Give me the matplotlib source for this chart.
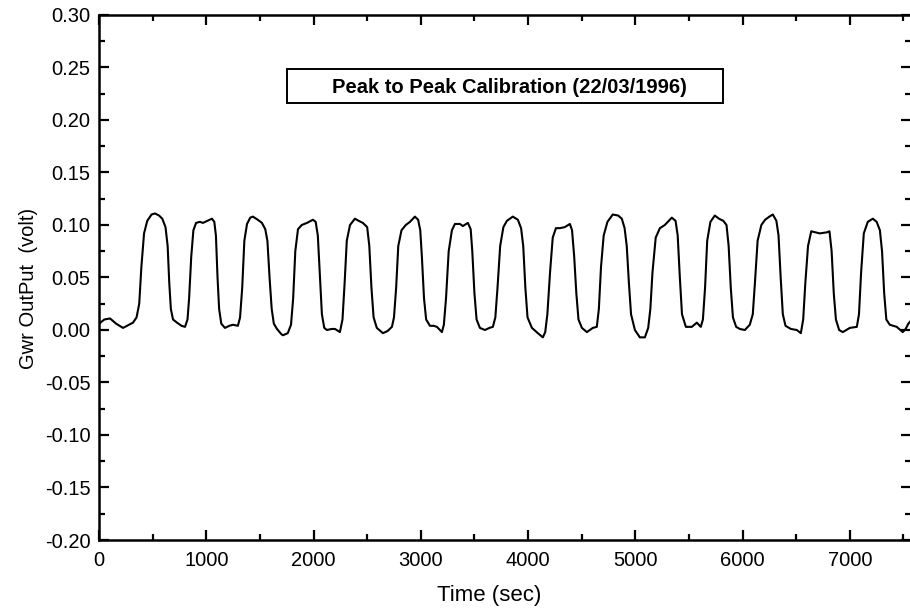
import matplotlib.pyplot as plt
from matplotlib.patches import Rectangle
from matplotlib.ticker import MultipleLocator

plt.rcParams['font.family'] = ['Liberation Sans', 'DejaVu Sans']

# time (sec) and GWR output (volt)
time_sec = [
    0, 50, 103, 160, 224, 280, 317, 350, 375, 395, 420, 450, 490, 522, 560, 590,
    620, 640, 655, 670, 690, 727, 770, 802, 825, 840, 860, 880, 905, 940, 969,
    1010, 1053, 1075, 1090, 1105, 1120, 1140, 1174, 1215, 1249, 1295, 1315, 1335,
    1355, 1380, 1410, 1435, 1480, 1519, 1550, 1570, 1590, 1610, 1630, 1659, 1700,
    1715, 1760, 1790, 1810, 1830, 1855, 1890, 1939, 1994, 2020, 2040, 2060, 2078,
    2100, 2125, 2170, 2200, 2246, 2270, 2290, 2310, 2340, 2386, 2420, 2460, 2500,
    2520, 2540, 2560, 2590, 2647, 2690, 2731, 2750, 2770, 2790, 2820, 2860, 2899,
    2945, 2975, 2995, 3010, 3030, 3050, 3085, 3120, 3150, 3197, 3215, 3235, 3260,
    3290, 3318, 3365, 3392, 3439, 3465, 3480, 3500, 3520, 3551, 3598, 3640, 3672,
    3695, 3715, 3740, 3770, 3803, 3858, 3905, 3935, 3955, 3975, 3995, 4036, 4091,
    4138, 4160, 4180, 4205, 4230, 4260, 4297, 4343, 4390, 4410, 4430, 4450, 4470,
    4502, 4548, 4604, 4641, 4660, 4680, 4705, 4740, 4790, 4840, 4874, 4900, 4920,
    4940, 4960, 4996, 5042, 5089, 5120, 5140, 5160, 5190, 5229, 5275, 5340, 5375,
    5395, 5415, 5435, 5471, 5527, 5573, 5610, 5630, 5650, 5670, 5700, 5741, 5780,
    5820, 5850, 5870, 5890, 5910, 5940, 5974, 6021, 6067, 6095, 6115, 6140, 6175,
    6210, 6250, 6282, 6315, 6335, 6355, 6375, 6400, 6450, 6505, 6543, 6565, 6585,
    6610, 6640, 6680, 6720, 6785, 6810, 6830, 6850, 6870, 6900, 6934, 7000, 7065,
    7085, 7105, 7130, 7167, 7214, 7250, 7280, 7300, 7320, 7340, 7372, 7437, 7493,
    7520, 7545, 7570,
]
output_volt = [
    0.006, 0.010, 0.011, 0.006, 0.002, 0.005, 0.007, 0.012, 0.025, 0.060, 0.092, 0.104, 0.110, 0.111, 0.109, 0.106,
    0.098, 0.080, 0.045, 0.020, 0.010, 0.007, 0.004, 0.003, 0.010, 0.030, 0.070, 0.095, 0.102, 0.103, 0.102,
    0.104, 0.106, 0.103, 0.090, 0.050, 0.020, 0.006, 0.002, 0.004, 0.005, 0.004, 0.012, 0.040,
    0.085, 0.101, 0.107, 0.108, 0.105, 0.102, 0.096, 0.085, 0.050, 0.020, 0.006, 0.001, -0.004,
    -0.005, -0.003, 0.005, 0.030, 0.075, 0.096, 0.100, 0.102, 0.105, 0.103, 0.090, 0.050, 0.015,
    0.002, 0.000, 0.001, 0.001, -0.002, 0.010, 0.045, 0.085, 0.100, 0.106, 0.104, 0.102, 0.098,
    0.080, 0.040, 0.012, 0.002, -0.003, -0.001, 0.003, 0.012, 0.040, 0.080, 0.095, 0.100, 0.103,
    0.108, 0.105, 0.095, 0.070, 0.030, 0.010, 0.004, 0.004, 0.003, -0.002, 0.005, 0.030, 0.075,
    0.095, 0.101, 0.101, 0.099, 0.102, 0.096, 0.075, 0.035, 0.010, 0.002, 0.000, 0.002, 0.003,
    0.012, 0.040, 0.080, 0.098, 0.104, 0.108, 0.105, 0.097, 0.080, 0.040, 0.012, 0.002, -0.003,
    -0.007, -0.002, 0.015, 0.055, 0.088, 0.097, 0.097, 0.098, 0.101, 0.095, 0.070, 0.035, 0.010,
    0.002, -0.002, 0.002, 0.003, 0.020, 0.060, 0.090, 0.103, 0.110, 0.109, 0.106, 0.097, 0.080,
    0.045, 0.015, 0.000, -0.007, -0.007, 0.002, 0.020, 0.055, 0.088, 0.097, 0.100, 0.107, 0.104,
    0.090, 0.050, 0.015, 0.003, 0.003, 0.007, 0.003, 0.010, 0.040, 0.085, 0.103, 0.109, 0.106,
    0.104, 0.100, 0.080, 0.040, 0.012, 0.003, 0.001, 0.000, 0.005, 0.015, 0.045, 0.085, 0.100,
    0.105, 0.108, 0.110, 0.104, 0.090, 0.050, 0.015, 0.004, 0.001, 0.000, -0.003, 0.010, 0.045,
    0.080, 0.094, 0.093, 0.092, 0.093, 0.094, 0.075, 0.035, 0.010, 0.000, -0.002, 0.002, 0.003,
    0.015, 0.055, 0.092, 0.103, 0.106, 0.103, 0.095, 0.075, 0.035, 0.010, 0.005, 0.003, -0.002,
    0.001, 0.006, 0.009,
]

title_text = 'Peak to Peak Calibration (22/03/1996)'

fig = plt.figure(figsize=(9.10, 6.14), dpi=100)
ax = fig.add_axes([99 / 910, 1 - 540 / 614, 812 / 910, 525 / 614])

ax.plot(time_sec, output_volt, color='black', lw=1.5)

ax.set_xlim(0, 7570)
ax.set_ylim(-0.20, 0.30)
ax.xaxis.set_major_locator(MultipleLocator(1000))
ax.xaxis.set_minor_locator(MultipleLocator(500))
ax.yaxis.set_major_locator(MultipleLocator(0.05))
ax.yaxis.set_minor_locator(MultipleLocator(0.025))
ax.yaxis.set_major_formatter(plt.FuncFormatter(lambda v, p: f'{v:.2f}'))

ax.tick_params(which='both', direction='in', top=True, right=True, width=1.6)
ax.tick_params(which='major', length=7.5, labelsize=14.5)
ax.tick_params(axis='x', which='major', pad=8)
ax.tick_params(axis='y', which='major', pad=6)
ax.tick_params(which='minor', length=4)
for s in ax.spines.values():
    s.set_linewidth(1.8)

ax.set_xlabel('Time (sec)', fontsize=16)
ax.set_ylabel('Gwr OutPut  (volt)', fontsize=14.5)
ax.xaxis.set_label_coords(0.48, -0.085)
ax.yaxis.set_label_coords(-0.075, 0.48)

ax.add_patch(Rectangle((0.232, 0.832), 0.537, 0.066, transform=ax.transAxes,
                       fill=False, edgecolor='black', lw=1.4))
ax.text(0.505, 0.861, title_text, transform=ax.transAxes, ha='center', va='center',
        fontsize=14.5, fontweight='bold')

fig.savefig('out.png', dpi=100)
